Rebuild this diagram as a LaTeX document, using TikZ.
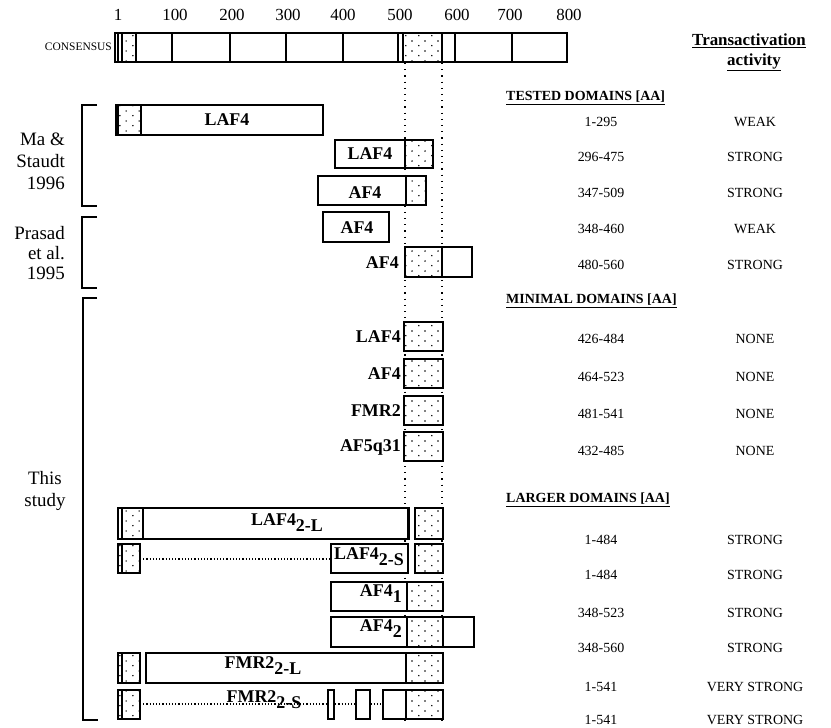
\documentclass[tikz,border=0pt]{standalone}
\usepackage{fontspec}
\setmainfont{Liberation Serif}
\usetikzlibrary{patterns}

% sparse stipple for the conserved domain
\pgfdeclarepatternformonly{stipple}{\pgfqpoint{0bp}{0bp}}{\pgfqpoint{13bp}{10bp}}{\pgfqpoint{13bp}{10bp}}{%
  \pgfpathcircle{\pgfqpoint{3bp}{2.5bp}}{0.85bp}%
  \pgfpathcircle{\pgfqpoint{9.5bp}{7.5bp}}{0.85bp}%
  \pgfusepath{fill}}
\newcommand{\lowsub}[1]{\raisebox{-0.33em}{#1}}

\tikzset{
  bar/.style={draw, line width=1.4pt, fill=white},
  dom/.style={draw, line width=1.4pt, preaction={fill=white}, pattern=stipple},
  gene/.style={font=\bfseries\fontsize{18}{20}\selectfont, inner sep=1pt},
  scalelbl/.style={font=\fontsize{17}{19}\selectfont},
  refs/.style={font=\fontsize{19}{22}\selectfont, align=right, anchor=east, inner sep=0pt},
  tbl/.style={font=\fontsize{14}{16}\selectfont},
  hdr/.style={font=\bfseries\fontsize{14}{16}\selectfont, anchor=west, inner sep=0pt},
  gap/.style={line width=1.2pt, dash pattern=on 1.2bp off 2bp},
}

\begin{document}
\begin{tikzpicture}[x=1bp, y=-1bp]
\useasboundingbox (0,0) rectangle (831,728);

% amino acid scale
\foreach \aa/\xx in {1/118, 100/175, 200/232, 300/288, 400/343, 500/400, 600/457, 700/510, 800/569}
  \node[scalelbl] (s\aa) at (\xx,15) {\aa};

% guide lines through the domain
\draw[line width=1.2pt, dash pattern=on 1.2bp off 5bp] (405,63) -- (405,722);
\draw[line width=1.2pt, dash pattern=on 1.2bp off 5bp] (442,63) -- (442,722);

% consensus
\node[font=\fontsize{11.5}{12}\selectfont, anchor=east, inner sep=1pt] (cons) at (113,47) {CONSENSUS};
\draw[bar] (115,33) rectangle (567,62);
\fill[pattern=stipple] (122,33) rectangle (136,62);
\fill[pattern=stipple] (403,33) rectangle (442,62);
\foreach \xx in {118, 122, 136, 398, 403, 442}
  \draw[line width=1.2pt] (\xx,33) -- (\xx,62);
\foreach \xx in {172, 230, 286, 343, 455}
  \draw[line width=2.8pt] (\xx,33) -- (\xx,62);
\draw[line width=1.8pt] (512,33) -- (512,62);

% header
\node[font=\bfseries\fontsize{17}{17}\selectfont, anchor=west, inner sep=0pt] (act1) at (692,41)
  {\underline{Transactivation}};
\node[font=\bfseries\fontsize{17}{17}\selectfont, inner sep=0pt] (act2) at (754,62)
  {\underline{activity}};

% references
\node[refs] (ma) at (65,161) {Ma \&\\Staudt\\1996};
\node[refs, font=\fontsize{19}{20}\selectfont] (pr) at (65,253) {Prasad\\et al.\\1995};
\node[font=\fontsize{19}{23}\selectfont, align=center, inner sep=0pt] (ts) at (45,491) {This\\study};
\draw[line width=1.5pt] (97,105) -- (82,105) -- (82,206) -- (97,206);
\draw[line width=1.5pt] (97,217) -- (82,217) -- (82,288) -- (97,288);
\draw[line width=1.5pt] (97,298) -- (83,298) -- (83,720) -- (98,720);

% tested domains
\draw[bar] (116,105) rectangle (323,135);
\draw[dom] (118,105) rectangle (141,135);
\node[gene] (t1) at (227,120) {LAF4};
\draw[bar] (335,140) rectangle (405,168);
\draw[dom] (405,140) rectangle (433,168);
\node[gene] (t2) at (370,154) {LAF4};
\draw[bar] (318,176) rectangle (406,205);
\draw[dom] (406,176) rectangle (426,205);
\node[gene] (t3) at (365,193) {AF4};
\draw[bar] (323,212) rectangle (389,242);
\node[gene] (t4) at (357,228) {AF4};
\draw[dom] (405,247) rectangle (442,277);
\draw[bar] (442,247) rectangle (472,277);
\node[gene, anchor=east] (t5) at (400,263) {AF4};

% minimal domains
\foreach \yy/\nm in {337/LAF4, 374/AF4, 411/FMR2, 447/AF5q31} {
  \draw[dom] (404,\yy-15) rectangle (443,\yy+14);
  \node[gene, anchor=east] (m\nm) at (402,\yy) {\nm};
}

% larger domains
\draw[bar] (118,508) rectangle (409,539);
\draw[dom] (122,508) rectangle (143,539);
\draw[line width=2.5pt] (408,508) -- (408,539);
\draw[dom] (415,508) rectangle (443,539);
\node[gene] (l1) at (287,523) {LAF4\lowsub{2-L}};

\draw[dom] (118,544) rectangle (140,573);
\draw[line width=1.2pt] (122,544) -- (122,573);
\draw[bar] (331,544) rectangle (408,573);
\draw[gap] (140,559) -- (331,559);
\draw[dom] (415,544) rectangle (443,573);
\node[gene] (l2) at (369,557) {LAF4\lowsub{2-S}};

\draw[bar] (331,582) rectangle (407,611);
\draw[dom] (407,582) rectangle (443,611);
\node[gene, anchor=east] (l3) at (403,594) {AF4\lowsub{1}};

\draw[bar] (331,617) rectangle (407,647);
\draw[dom] (407,617) rectangle (443,647);
\draw[bar] (443,617) rectangle (474,647);
\node[gene, anchor=east] (l4) at (403,629) {AF4\lowsub{2}};

\draw[dom] (118,653) rectangle (140,683);
\draw[line width=1.2pt] (122,653) -- (122,683);
\draw[bar] (146,653) rectangle (406,683);
\draw[dom] (406,653) rectangle (443,683);
\node[gene] (l5) at (263,666) {FMR2\lowsub{2-L}};

\draw[gap] (140,704) -- (383,704);
\draw[dom] (118,690) rectangle (140,719);
\draw[line width=1.2pt] (122,690) -- (122,719);
\draw[bar] (328,690) rectangle (334,719);
\draw[bar] (356,690) rectangle (370,719);
\draw[bar] (383,690) rectangle (406,719);
\draw[dom] (406,690) rectangle (443,719);
\node[gene] (l6) at (264,700) {FMR2\lowsub{2-S}};

% table
\node[hdr] (h1) at (506,98) {\underline{TESTED DOMAINS [AA]}};
\node[hdr] (h2) at (506,301) {\underline{MINIMAL DOMAINS [AA]}};
\node[hdr] (h3) at (506,500) {\underline{LARGER DOMAINS [AA]}};
\foreach \yy/\aa/\act in {122/1-295/WEAK, 157/296-475/STRONG, 193/347-509/STRONG,
    229/348-460/WEAK, 265/480-560/STRONG, 339/426-484/NONE, 377/464-523/NONE,
    414/481-541/NONE, 451/432-485/NONE, 540/1-484/STRONG, 575/1-484/STRONG,
    613/348-523/STRONG, 648/348-560/STRONG, 687/1-541/VERY STRONG, 720/1-541/VERY STRONG} {
  \node[tbl] (aa\yy) at (601,\yy) {\aa};
  \node[tbl] (ac\yy) at (755,\yy) {\act};
}
\end{tikzpicture}
\end{document}
